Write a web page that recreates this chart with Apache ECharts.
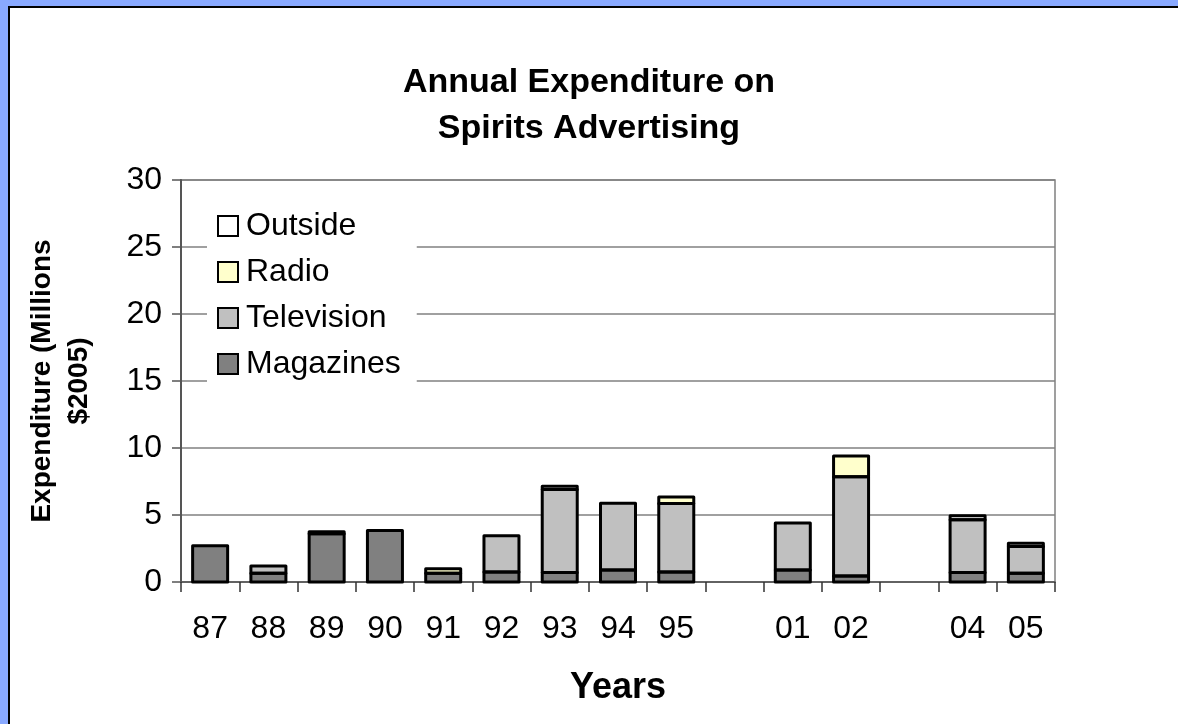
<!DOCTYPE html>
<html>
<head>
<meta charset="utf-8">
<title>Annual Expenditure on Spirits Advertising</title>
<script src="https://cdn.jsdelivr.net/npm/echarts@6/dist/echarts.min.js"></script>
<style>
  html, body { margin: 0; padding: 0; width: 1178px; height: 724px; overflow: hidden; background: #89a9ff; }
  #frame { position: absolute; left: 8px; top: 6px; width: 1180px; height: 730px; background: #ffffff;
           border-left: 2px solid #000; border-top: 2px solid #000; box-sizing: border-box; }
  #chart { position: absolute; left: 0; top: 0; width: 1178px; height: 724px; }
</style>
</head>
<body>
<div id="frame"></div>
<div id="chart"></div>
<script>
// Years on the category axis (blank slots keep the gaps between 95 and 01, and 02 and 04)
const years = ['87', '88', '89', '90', '91', '92', '93', '94', '95', '', '01', '02', '', '04', '05'];

// Expenditure in millions of 2005 dollars; '-' means no spending in that medium
const magazines  = [2.7, 0.65, 3.6, 3.85, 0.65, 0.75, 0.7, 0.9, 0.75, '-', 0.9, 0.45, '-', 0.7, 0.65];
const television = ['-', 0.55, 0.15, '-', '-', 2.7, 6.2, 4.98, 5.1, '-', 3.5, 7.4, '-', 3.95, 2.0];
const radio      = ['-', '-', '-', '-', 0.33, '-', '-', '-', 0.5, '-', '-', 1.55, '-', '-', '-'];
const outside    = ['-', '-', '-', '-', '-', '-', 0.25, '-', '-', '-', '-', '-', '-', 0.3, 0.25];

const yTicks = { min: 0, max: 30, interval: 5 };

const FONT = "'Liberation Sans', Arial, Helvetica, sans-serif";
const BAR_W = 35;

const chart = echarts.init(document.getElementById('chart'), null, { renderer: 'canvas' });

function stackSeries(name, data, color) {
  return {
    name: name,
    type: 'bar',
    stack: 'total',
    data: data,
    barWidth: BAR_W,
    itemStyle: { color: color, borderWidth: 0 },
    emphasis: { disabled: true }
  };
}

// Outline each stacked segment with a single stroke centred on its edges,
// so shared edges between segments stay one line thick.
const stacks = [magazines, television, radio, outside];
const outlineData = years.map((y, i) => {
  let total = 0;
  stacks.forEach(s => { if (s[i] !== '-') total += s[i]; });
  return [i, total];
});

function renderOutline(params, api) {
  const i = api.value(0);
  const children = [];
  let base = 0;
  stacks.forEach(s => {
    const v = s[i];
    if (v === '-') return;
    const p0 = api.coord([i, base]);
    const p1 = api.coord([i, base + v]);
    children.push({
      type: 'rect',
      shape: { x: p0[0] - BAR_W / 2, y: p1[1], width: BAR_W, height: p0[1] - p1[1] },
      style: { fill: null, stroke: '#000', lineWidth: 3, lineJoin: 'round' }
    });
    base += v;
  });
  return { type: 'group', children: children };
}

chart.setOption({
  animation: false,
  backgroundColor: 'transparent',
  textStyle: { fontFamily: FONT },
  grid: {
    left: 181, right: 123, top: 180, bottom: 142,
    show: true, borderColor: '#808080', borderWidth: 1.5, backgroundColor: 'transparent'
  },
  legend: {
    orient: 'vertical',
    left: 207, top: 200,
    padding: [10, 16, 10, 10],
    backgroundColor: '#ffffff',
    itemWidth: 20, itemHeight: 20,
    itemGap: 14,
    data: ['Outside', 'Radio', 'Television', 'Magazines'],
    icon: 'rect',
    itemStyle: { borderWidth: 2, borderColor: '#000' },
    textStyle: { fontFamily: FONT, fontSize: 32, color: '#000', padding: [0, 0, 0, 3] },
    selectedMode: false
  },
  xAxis: {
    type: 'category',
    data: years,
    boundaryGap: true,
    axisLine: { show: true, lineStyle: { color: '#555', width: 1.5 } },
    axisTick: { show: true, length: 10, alignWithLabel: false, interval: 0, lineStyle: { color: '#333', width: 1.5 } },
    axisLabel: { interval: 0, margin: 31, fontSize: 32, color: '#000', fontFamily: FONT },
    splitLine: { show: false }
  },
  yAxis: {
    type: 'value',
    min: yTicks.min, max: yTicks.max, interval: yTicks.interval,
    axisLine: { show: true, lineStyle: { color: '#555', width: 2 } },
    axisTick: { show: true, length: 9, inside: false, lineStyle: { color: '#555', width: 1.5 } },
    axisLabel: { margin: 19, fontSize: 32, color: '#000', fontFamily: FONT },
    splitLine: { show: true, lineStyle: { color: '#808080', width: 1.5 } }
  },
  graphic: [
    {
      type: 'text', x: 589, y: 106,
      style: {
        text: 'Annual Expenditure on\nSpirits Advertising',
        font: "bold 34px " + FONT, lineHeight: 46,
        fill: '#000', align: 'center', verticalAlign: 'middle'
      }
    },
    {
      type: 'text', x: 61, y: 381, rotation: Math.PI / 2,
      style: {
        text: 'Expenditure (Millions\n$2005)',
        font: "bold 28px " + FONT, lineHeight: 37,
        fill: '#000', align: 'center', verticalAlign: 'middle'
      }
    },
    {
      type: 'text', x: 618, y: 688,
      style: {
        text: 'Years',
        font: "bold 36px " + FONT,
        fill: '#000', align: 'center', verticalAlign: 'middle'
      }
    }
  ],
  series: [
    stackSeries('Magazines', magazines, '#808080'),
    stackSeries('Television', television, '#c0c0c0'),
    stackSeries('Radio', radio, '#ffffcc'),
    stackSeries('Outside', outside, '#ffffff'),
    {
      name: 'outline',
      type: 'custom',
      data: outlineData,
      encode: { x: 0, y: 1 },
      renderItem: renderOutline,
      silent: true,
      z: 3
    }
  ]
});
</script>
</body>
</html>
